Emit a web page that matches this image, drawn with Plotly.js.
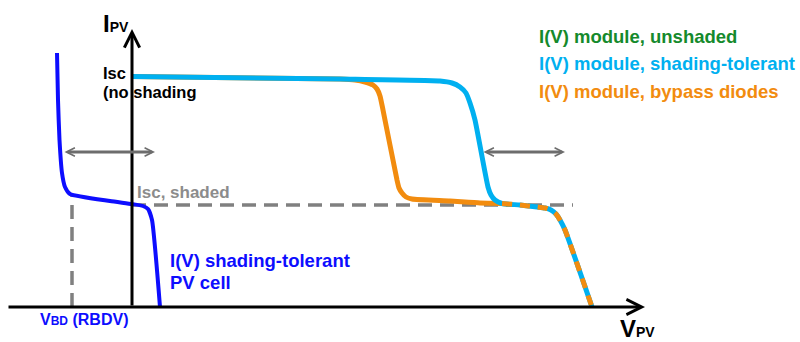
<!DOCTYPE html>
<html><head><meta charset="utf-8">
<script src="https://cdn.plot.ly/plotly-3.0.1.min.js"></script>
<style>html,body{margin:0;padding:0;background:#fff}#chart{width:800px;height:342px}</style>
</head><body><div id="chart"></div>
<script>
// Schematic I(V) curves, arbitrary units (origin = axis crossing)
// Shading-tolerant PV cell
const cellV = [-75, -74, -72.5, -70, -67, -62, -22, 0, 11, 16, 20, 28];
const cellI = [254, 207, 167, 134, 120, 113, 106, 103, 101, 98, 87, 0];
// Shading-tolerant module: upper part
const tolV = [0, 208, 308, 320, 328, 334, 338, 343, 356, 359, 363, 370];
const tolI = [230.5, 228, 226, 224, 220, 214, 204, 187, 120, 112, 107, 103.5];
// Bypass-diode module: upper part
const bypV = [0, 208, 223, 233, 241, 245, 248, 251, 265, 267, 270, 274, 280, 318, 348, 370];
const bypI = [230.5, 228, 227, 225, 222, 218, 211, 197, 127, 119, 114, 110, 108, 106, 104, 103.5];
// Common tail of both module curves
const tailV = [370, 388, 405, 413, 419, 424, 428, 433, 460];
const tailI = [103.5, 102, 100, 99, 97, 93, 87, 77, 0];
// Reference levels
const iscShaded = 102;      // short-circuit current, shaded
const iscShadedEnd = 441;   // extent of dashed Isc line
const vBD = -60;            // reverse breakdown voltage
const iAtVBD = 112;
// Axis extents and shift arrows
const vAxis = [-125, 513];
const iAxis = [0, 278];
const shiftI = 155;
const shiftLeft = [-69, 23];
const shiftRight = [350, 433];

const FONT = 'Liberation Sans, Arial, sans-serif';
const C_CYAN = '#00b0f0', C_ORANGE = '#f28c0f', C_BLUE = '#0d0dff',
      C_GREEN = '#158a2c', C_GRAY = '#808080', C_ARROW = '#6d6d6d';

const traces = [
  {x: [0, iscShadedEnd], y: [iscShaded, iscShaded], mode: 'lines',
   line: {color: C_GRAY, width: 3.5, dash: '14px,8px'}},
  {x: [vBD, vBD], y: [0, iAtVBD], mode: 'lines',
   line: {color: C_GRAY, width: 3.5, dash: '14px,8px'}},
  {x: bypV, y: bypI, mode: 'lines', line: {color: C_ORANGE, width: 5, shape: 'spline', smoothing: 0.5}},
  {x: tolV.concat(tailV.slice(1)), y: tolI.concat(tailI.slice(1)), mode: 'lines',
   line: {color: C_CYAN, width: 5, shape: 'spline', smoothing: 0.5}},
  {x: tailV, y: tailI, mode: 'lines',
   line: {color: C_ORANGE, width: 5, dash: '10px,8px', shape: 'spline', smoothing: 0.5}},
  {x: cellV, y: cellI, mode: 'lines', line: {color: C_BLUE, width: 4, shape: 'spline', smoothing: 0.5}}
];

// text label helper: left edge (V), baseline (I), max font size
function label(text, v, base, size, color) {
  return {x: v, y: base + 0.3465 * size, xref: 'x', yref: 'y', text: text,
    showarrow: false, xanchor: 'left', yanchor: 'middle', borderpad: 0, borderwidth: 0,
    font: {family: FONT, size: size, color: color, weight: 700}};
}
function arrow(x0, y0, x1, y1, color, w, size, both) {
  const a = {x: x1, y: y1, ax: x0, ay: y0, xref: 'x', yref: 'y', axref: 'x', ayref: 'y',
    text: '', showarrow: true, arrowhead: 5, arrowsize: size, arrowwidth: w, arrowcolor: color};
  if (both) { a.arrowside = 'end+start'; a.startarrowhead = 5; a.startarrowsize = size; }
  return a;
}

const annotations = [
  arrow(vAxis[0], 0, vAxis[1], 0, '#000', 3, 1, false),
  arrow(0, iAxis[0], 0, iAxis[1], '#000', 3, 1, false),
  arrow(shiftLeft[0], shiftI, shiftLeft[1], shiftI, C_ARROW, 2.8, 0.6, true),
  arrow(shiftRight[0], shiftI, shiftRight[1], shiftI, C_ARROW, 2.8, 0.6, true),
  label('I<span style="font-size:14px">PV</span>', -29, 275, 24, '#000'),
  label('V<span style="font-size:14px">PV</span>', 488, -30, 24, '#000'),
  label('Isc', -29, 228, 16.5, '#000'),
  label('(no shading', -29, 209, 16.5, '#000'),
  label('Isc, shaded', 5, 109, 17, '#8c8c8c'),
  label('I(V) shading-tolerant', 38, 40, 18.5, C_BLUE),
  label('PV cell', 38, 18, 18.5, C_BLUE),
  label('V<span style="font-size:12px">BD</span> (RBDV)', -92, -18, 16, C_BLUE),
  label('I(V) module, unshaded', 407, 264, 18.5, C_GREEN),
  label('I(V) module, shading-tolerant', 407, 237, 18.5, C_CYAN),
  label('I(V) module, bypass diodes', 407, 209, 18.5, C_ORANGE)
];

const layout = {
  width: 800, height: 342, margin: {l: 0, r: 0, t: 0, b: 0},
  paper_bgcolor: '#fff', plot_bgcolor: '#fff', showlegend: false,
  xaxis: {range: [-132, 668], visible: false, fixedrange: true},
  yaxis: {range: [-35, 307], visible: false, fixedrange: true},
  annotations: annotations
};
Plotly.newPlot('chart', traces, layout, {displayModeBar: false, staticPlot: true});
</script></body></html>
